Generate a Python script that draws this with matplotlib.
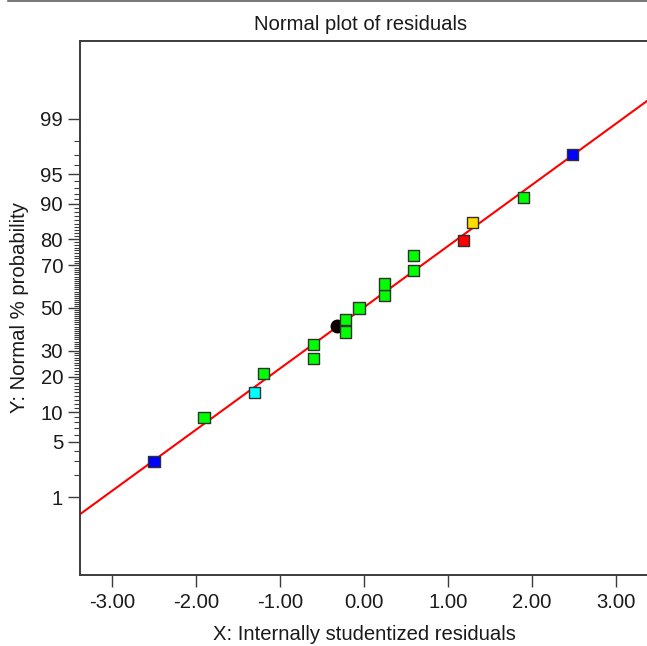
import numpy as np
import matplotlib
matplotlib.use("Agg")
import matplotlib.pyplot as plt
from matplotlib.ticker import FixedLocator, NullFormatter
from statistics import NormalDist

# Internally studentized residuals and their normal % probability
residuals = [-2.505, -1.909, -1.309, -1.197, -0.602, -0.602, -0.220, -0.220, -0.062,
             0.244, 0.244, 0.585, 0.585, 1.181, 1.293, 1.896, 2.484]
probability = [2.95, 8.97, 14.9, 20.98, 26.8, 32.6, 38.4, 44.5, 50.0,
               56.3, 61.6, 67.8, 74.0, 79.6, 85.2, 91.2, 97.0]
point_colors = ["#0000ff", "#00ff00", "#00ffff", "#00ff00", "#00ff00", "#00ff00",
                "#00ff00", "#00ff00", "#00ff00", "#00ff00", "#00ff00", "#00ff00",
                "#00ff00", "#ff0000", "#ffdd00", "#00ff00", "#0000ff"]

# Selected point marker
selected_x = [-0.321]
selected_p = [41.3]

# Reference line (end points)
line_x = [-3.39, 3.37]
line_p = [0.56, 99.45]

major_ticks = [1, 5, 10, 20, 30, 50, 70, 80, 90, 95, 99]
x_ticks = [-3, -2, -1, 0, 1, 2, 3]

_nd = NormalDist()
_inv = np.vectorize(lambda p: _nd.inv_cdf(min(max(p / 100.0, 1e-12), 1 - 1e-12)))
_cdf = np.vectorize(lambda z: _nd.cdf(z) * 100.0)


def probit_forward(p):
    return _inv(np.asarray(p, dtype=float))


def probit_inverse(z):
    return _cdf(np.asarray(z, dtype=float))


plt.rcParams["font.family"] = ["Liberation Sans", "DejaVu Sans"]
FS = 14.6
TXT = "#1a1a1a"
SPINE = "#3c3c3c"

W, H = 647, 646
fig = plt.figure(figsize=(W / 100, H / 100), dpi=100)
ax = fig.add_axes([80 / W, 1 - 575 / H, 1 - 80 / W, (575 - 40.5) / H])

ax.set_yscale("function", functions=(probit_forward, probit_inverse))
ax.set_xlim(-3.386, 3.369)
ax.set_ylim(0.052, 99.949)

ax.plot(line_x, line_p, color="#ff0000", lw=1.5, zorder=2)
ax.plot(selected_x, selected_p, "o", color="#0a0000", ms=9, zorder=3)
ax.scatter(residuals, probability, marker="s", s=64, c=point_colors,
           edgecolors="#303030", linewidths=1.0, zorder=4)

ax.yaxis.set_major_locator(FixedLocator(major_ticks))
minor = [v for v in range(2, 99) if v not in major_ticks]
ax.yaxis.set_minor_locator(FixedLocator(minor))
ax.yaxis.set_minor_formatter(NullFormatter())
ax.set_yticklabels([str(v) for v in major_ticks])

ax.set_xticks(x_ticks)
ax.set_xticklabels([f"{v:.2f}" for v in x_ticks])
ax.xaxis.set_minor_locator(FixedLocator([]))

ax.tick_params(axis="both", which="major", direction="out", length=8.6, width=1.0,
               color=SPINE, labelsize=FS, labelcolor=TXT)
ax.tick_params(axis="y", which="major", pad=3.6)
ax.tick_params(axis="x", which="major", pad=4.0)
ax.tick_params(axis="y", which="minor", direction="out", length=4.3, width=0.8, color=SPINE)

for side in ("left", "top", "bottom"):
    ax.spines[side].set_color(SPINE)
    ax.spines[side].set_linewidth(1.4)
ax.spines["right"].set_visible(False)

fig.text(361 / W, 1 - 29.5 / H, "Normal plot of residuals", ha="center", va="baseline",
         fontsize=FS, color=TXT)
fig.text(364 / W, 1 - 640 / H, "X: Internally studentized residuals", ha="center",
         va="baseline", fontsize=FS, color=TXT)
fig.text(20 / W, 1 - 307.5 / H, "Y: Normal % probability", ha="center", va="center",
         rotation=90, fontsize=FS, color=TXT)

# thin rule along the top edge
fig.add_artist(plt.Line2D([8 / W, 1.0], [1 - 0.8 / H, 1 - 0.8 / H], color="#606060",
                          lw=1.2, transform=fig.transFigure))

fig.savefig("out.png", dpi=100, facecolor="white")
